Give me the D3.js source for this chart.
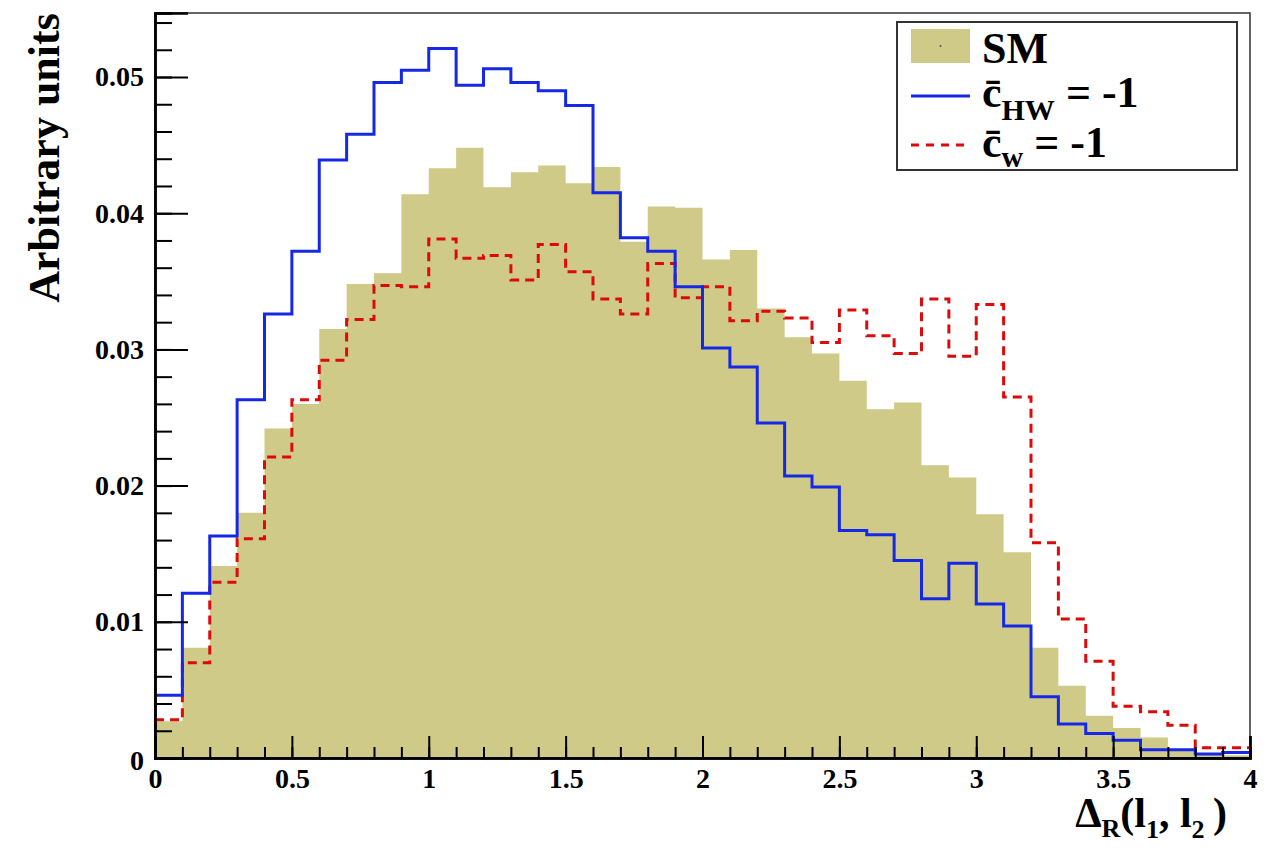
<!DOCTYPE html>
<html>
<head>
<meta charset="utf-8">
<script src="https://cdn.jsdelivr.net/npm/d3@7"></script>
<style>
  html, body { margin: 0; padding: 0; background: #fff; }
  svg { display: block; }
  text { font-family: "Liberation Serif", "Times New Roman", serif; font-weight: bold; fill: #000; }
</style>
</head>
<body>
<svg id="chart" width="1272" height="848"></svg>
<script>
// ---- data: 40 bins of width 0.1 from 0 to 4 ----
const binEdges = d3.range(0, 40).map(i => +(i * 0.1).toFixed(1));
const smValues = [
  0.0027, 0.0081, 0.0141, 0.0180, 0.0242, 0.0260, 0.0315, 0.0348, 0.0356, 0.0414,
  0.0433, 0.0448, 0.0419, 0.0430, 0.0435, 0.0422, 0.0434, 0.0379, 0.0405, 0.0404,
  0.0366, 0.0373, 0.0330, 0.0309, 0.0297, 0.0277, 0.0256, 0.0261, 0.0215, 0.0206,
  0.0179, 0.0151, 0.0081, 0.0053, 0.0031, 0.0022, 0.0015, 0.0006, 0.0003, 0.0002
];
const cHWValues = [
  0.0046, 0.0121, 0.0163, 0.0263, 0.0326, 0.0372, 0.0439, 0.0458, 0.0496, 0.0505,
  0.0521, 0.0494, 0.0506, 0.0496, 0.0490, 0.0479, 0.0415, 0.0382, 0.0372, 0.0346,
  0.0301, 0.0287, 0.0246, 0.0207, 0.0199, 0.0167, 0.0164, 0.0145, 0.0117, 0.0143,
  0.0113, 0.0097, 0.0045, 0.0025, 0.0018, 0.0013, 0.0006, 0.0006, 0.0003, 0.0004
];
const cWValues = [
  0.0028, 0.0070, 0.0129, 0.0161, 0.0221, 0.0263, 0.0292, 0.0322, 0.0347, 0.0346,
  0.0381, 0.0367, 0.0369, 0.0351, 0.0377, 0.0357, 0.0337, 0.0326, 0.0363, 0.0338,
  0.0346, 0.0321, 0.0328, 0.0323, 0.0305, 0.0329, 0.0310, 0.0297, 0.0337, 0.0295,
  0.0333, 0.0265, 0.0158, 0.0102, 0.0071, 0.0038, 0.0034, 0.0024, 0.00075, 0.00075
];
const xMajorTicks = [0, 0.5, 1, 1.5, 2, 2.5, 3, 3.5, 4];
const xTickLabels = ["0", "0.5", "1", "1.5", "2", "2.5", "3", "3.5", "4"];
const yMajorTicks = [0, 0.01, 0.02, 0.03, 0.04, 0.05];
const yTickLabels = ["0", "0.01", "0.02", "0.03", "0.04", "0.05"];
const xDomain = [0, 4];
const yDomain = [0, 0.0547];

// ---- layout ----
const L = 155, R = 1250, T = 13, B = 758;
const svg = d3.select("#chart");
const x = d3.scaleLinear().domain(xDomain).range([L, R]);
const y = d3.scaleLinear().domain(yDomain).range([B, T]);

const colSM = "#d0ca88", colHW = "#1428e6", colW = "#dc0a0a";

function stepPoints(vals) {
  const pts = vals.map((v, i) => [binEdges[i], v]);
  pts.push([xDomain[1], vals[vals.length - 1]]);
  return pts;
}

// SM filled histogram
svg.append("path")
  .datum(stepPoints(smValues))
  .attr("fill", colSM)
  .attr("d", d3.area().curve(d3.curveStepAfter).x(d => x(d[0])).y0(y(0)).y1(d => y(d[1])));

const stepLine = d3.line().curve(d3.curveStepAfter).x(d => x(d[0])).y(d => y(d[1]));

svg.append("path")
  .datum(stepPoints(cWValues))
  .attr("fill", "none").attr("stroke", colW).attr("stroke-width", 3)
  .attr("stroke-dasharray", "9,6")
  .attr("d", stepLine);

svg.append("path")
  .datum(stepPoints(cHWValues))
  .attr("fill", "none").attr("stroke", colHW).attr("stroke-width", 3)
  .attr("d", stepLine);

// frame (top / right)
svg.append("rect").attr("x", L).attr("y", T).attr("width", R - L).attr("height", B - T)
  .attr("fill", "none").attr("stroke", "#333").attr("stroke-width", 1.5);

// ---- axes ----
const xMinor = d3.range(0, 41).map(i => i * 0.1);
const yMinor = d3.range(0, 28).map(i => i * 0.002).filter(v => v <= yDomain[1]);

const gx = svg.append("g").attr("transform", `translate(0,${B})`);
gx.call(d3.axisBottom(x).tickValues(xMinor).tickSize(-11).tickFormat(""));
gx.append("g").call(d3.axisBottom(x).tickValues(xMajorTicks).tickSize(-22)
  .tickFormat((d, i) => xTickLabels[i]).tickPadding(0));
gx.selectAll(".domain").attr("stroke", "#000").attr("stroke-width", 2.5);
gx.selectAll(".tick line").attr("stroke", "#000").attr("stroke-width", 2);
gx.selectAll(".tick text").attr("font-size", 28).attr("dy", null).attr("y", 30)
  .style("font-family", "Liberation Serif").style("font-weight", "bold");

const gy = svg.append("g").attr("transform", `translate(${L},0)`);
gy.call(d3.axisLeft(y).tickValues(yMinor).tickSize(-17).tickFormat(""));
gy.append("g").call(d3.axisLeft(y).tickValues(yMajorTicks).tickSize(-33)
  .tickFormat((d, i) => yTickLabels[i]).tickPadding(0));
gy.selectAll(".domain").attr("stroke", "#000").attr("stroke-width", 2.5);
gy.selectAll(".tick line").attr("stroke", "#000").attr("stroke-width", 2);
gy.selectAll(".tick text").attr("font-size", 28).attr("x", -11)
  .style("font-family", "Liberation Serif").style("font-weight", "bold");
gy.selectAll(".tick text").filter(d => d === 0).attr("dy", "0.42em");

// axis titles
svg.append("text")
  .attr("transform", "translate(59,158) rotate(-90)")
  .attr("text-anchor", "middle").attr("font-size", 44)
  .text("Arbitrary units");

const xt = svg.append("text").attr("x", 1227).attr("y", 827)
  .attr("text-anchor", "end").attr("font-size", 42);
xt.append("tspan").text("Δ");
xt.append("tspan").attr("font-size", 26).attr("dy", 10).text("R");
xt.append("tspan").attr("dy", -10).text("(l");
xt.append("tspan").attr("font-size", 26).attr("dy", 11).text("1");
xt.append("tspan").attr("dy", -11).text(", l");
xt.append("tspan").attr("font-size", 26).attr("dy", 11).text("2");
xt.append("tspan").attr("dy", -11).text("\u2009)");

// ---- legend ----
const lg = svg.append("g");
lg.append("rect").attr("x", 897).attr("y", 22).attr("width", 340).attr("height", 148)
  .attr("fill", "#fff").attr("stroke", "#333").attr("stroke-width", 2);
lg.append("rect").attr("x", 911).attr("y", 29).attr("width", 59).attr("height", 34).attr("fill", colSM);
lg.append("circle").attr("cx", 940.5).attr("cy", 46).attr("r", 1).attr("fill", "#555");
lg.append("text").attr("x", 982).attr("y", 63).attr("font-size", 44).text("SM");

lg.append("line").attr("x1", 911).attr("x2", 970).attr("y1", 96).attr("y2", 96)
  .attr("stroke", colHW).attr("stroke-width", 3);
const t2 = lg.append("text").attr("x", 982).attr("y", 107).attr("font-size", 44);
t2.append("tspan").text("c\u0304");
t2.append("tspan").attr("font-size", 30).attr("dy", 13).text("HW");
t2.append("tspan").attr("dy", -13).text(" = -1");

lg.append("line").attr("x1", 911).attr("x2", 970).attr("y1", 145).attr("y2", 145)
  .attr("stroke", colW).attr("stroke-width", 3).attr("stroke-dasharray", "8,7");
const t3 = lg.append("text").attr("x", 982).attr("y", 157).attr("font-size", 44);
t3.append("tspan").text("c\u0304");
t3.append("tspan").attr("font-size", 30).attr("dy", 10).text("w");
t3.append("tspan").attr("dy", -10).text(" = -1");
</script>
</body>
</html>
